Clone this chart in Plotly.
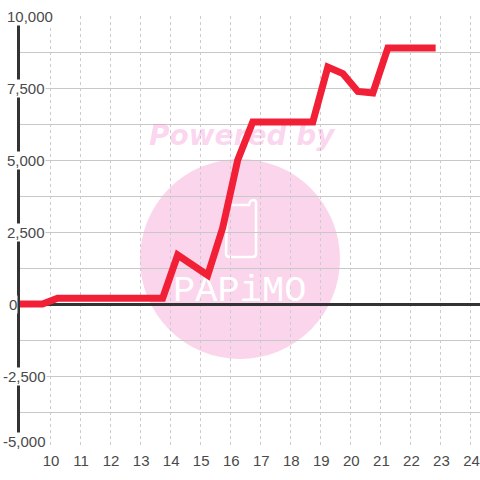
import plotly.graph_objects as go

hours = [8.92, 9.75, 10.25, 10.75, 11.25, 11.75, 12.25, 12.75, 13.25, 13.75, 14.25, 14.75, 15.25,
         15.75, 16.25, 16.75, 17.25, 17.75, 18.25, 18.75, 19.25, 19.75, 20.25, 20.75, 21.25,
         21.75, 22.25, 22.84]
values = [0, 0, 200, 200, 200, 200, 200, 200, 200, 200, 1700, 1350, 1000,
          2650, 5000, 6320, 6320, 6320, 6320, 6320, 8230, 8000, 7380, 7330, 8890,
          8890, 8890, 8890]
x_ticks = list(range(10, 25))
y_grid = [-5000, -3750, -2500, -1250, 0, 1250, 2500, 3750, 5000, 6250, 7500, 8750, 10000]
y_labels = [(10000, "10,000"), (7500, "7,500"), (5000, "5,000"), (2500, "2,500"),
            (0, "0"), (-2500, "-2,500"), (-5000, "-5,000")]

W, H = 480, 480
L, R, T, B = 20, 0, 16, 32
TEXT = "#4a4a4a"
PINK = "#fbd5ec"


def px(x):
    return (x - L) / (W - L - R)


def py(y):
    return 1 - (y - T) / (H - T - B)


def X(x):
    return 9 + (x - 20.5) / 30


def Y(y):
    return (304 - y) / 0.0288


fig = go.Figure()
# watermark text (under the line)
fig.add_trace(go.Scatter(
    x=[X(242)], y=[Y(138)], mode="text", text=["Powered by"], hoverinfo="skip", showlegend=False,
    textfont=dict(family="DejaVu Sans", size=28, color="rgba(245,130,205,0.32)", weight="bold", style="italic"),
    textposition="middle center"))
fig.add_trace(go.Scatter(
    x=[X(240)], y=[Y(292)], mode="text", text=["PAPiMO"], hoverinfo="skip", showlegend=False,
    textfont=dict(family="Liberation Mono", size=37, color="white"),
    textposition="middle center"))
fig.add_trace(go.Scatter(
    x=hours, y=values, mode="lines", line=dict(color="#f22036", width=7), cliponaxis=False,
    showlegend=False, hoverinfo="skip"))

shapes = [
    dict(type="circle", xref="paper", yref="paper", layer="below",
         x0=px(140), x1=px(340), y0=py(359), y1=py(159),
         fillcolor=PINK, line=dict(width=0)),
    dict(type="path", xref="paper", yref="paper", layer="below",
         path=(f"M {px(249)} {py(205)} L {px(227)} {py(205)} L {px(226)} {py(254)} "
               f"Q {px(226)} {py(257)} {px(230)} {py(257)} L {px(252)} {py(257)} "
               f"Q {px(256)} {py(257)} {px(256)} {py(254)} L {px(256)} {py(203)} "
               f"Q {px(256)} {py(200)} {px(253)} {py(200)} Q {px(250)} {py(200)} {px(249)} {py(205)} Z"),
         line=dict(color="white", width=2.5)),
]

annotations = [
    dict(xref="paper", yref="y", x=px(2 if t.startswith("-") else (8 if t == "0" else 6)), y=v,
         yshift=7 if v == -5000 else 0,
         text=t, showarrow=False, xanchor="left", yanchor="middle",
         font=dict(family="Liberation Sans", size=15, color=TEXT),
         bgcolor="white", borderpad=0)
    for v, t in y_labels
]

fig.update_layout(
    width=W, height=H, autosize=False, margin=dict(l=L, r=R, t=T, b=B),
    paper_bgcolor="white", plot_bgcolor="white", showlegend=False,
    shapes=shapes, annotations=annotations,
    xaxis=dict(range=[9, 24.317], tickmode="array", tickvals=x_ticks,
               ticktext=[str(t) for t in x_ticks], showgrid=True, gridcolor="#cccccc", griddash="3px,3px",
               gridwidth=1, zeroline=False, showline=False, ticks="", ticklen=0, ticklabelstandoff=2,
               ticklabelshift=1, tickfont=dict(family="Liberation Sans", size=15, color=TEXT)),
    yaxis=dict(range=[-5000, 10000], tickmode="array", tickvals=y_grid, ticktext=[""] * len(y_grid),
               showgrid=True, gridcolor="#c8c8c8", gridwidth=1, zeroline=True, zerolinecolor="#333333",
               zerolinewidth=3, showline=True, linecolor="#333333", linewidth=3, ticks=""),
)
fig.write_html("out.html", config=dict(displayModeBar=False),
               post_script="document.body.style.margin='0';document.body.style.overflow='hidden';")
